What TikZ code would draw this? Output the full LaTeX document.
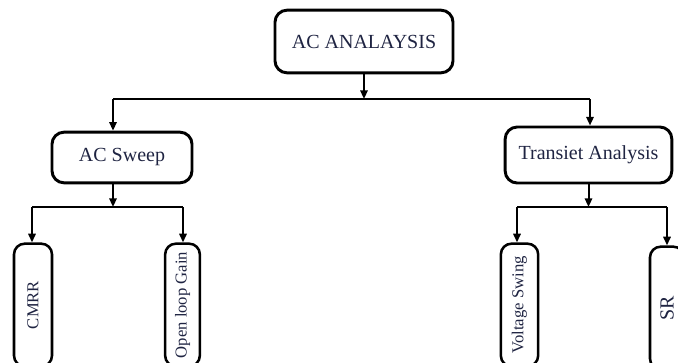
\documentclass[tikz,border=0pt]{standalone}
\usepackage{fontspec}
\setmainfont{Liberation Serif}
\usetikzlibrary{arrows.meta}
\definecolor{inkblue}{rgb}{0.12,0.14,0.26}
\tikzset{
  blk/.style={draw,line width=2.2pt,rounded corners=9pt,text=inkblue,
    font=\fontsize{15}{18}\selectfont},
  vblk/.style={blk,rotate=90,rounded corners=8pt,line width=1.9pt,
    font=\fontsize{12.5}{15}\selectfont},
  arr/.style={line width=1.5pt,-{Triangle[length=6.5pt,width=5.5pt]}},
  bus/.style={line width=1.5pt}
}

\begin{document}
\begin{tikzpicture}[x=0.75pt,y=-0.75pt]
  \useasboundingbox(0,0)rectangle(678,362);
  \clip(0,0)rectangle(678,362);
  % boxes
  \node[blk,minimum width=133.5pt,minimum height=47pt](ana)at(364,41.5){AC ANALAYSIS};
  \node[blk,minimum width=105pt,minimum height=38pt](swp)at(122,157.5){AC Sweep};
  \node[blk,minimum width=125pt,minimum height=42pt](trs)at(588.5,155){Transiet Analysis};
  \node[vblk,minimum width=92pt,minimum height=28.5pt](cmrr)at(33,305){CMRR};
  \node[vblk,minimum width=92pt,minimum height=26pt](olg)at(182.5,305){Open loop Gain};
  \node[vblk,minimum width=92pt,minimum height=28pt](vsw)at(519.5,305){Voltage Swing};
  \node[vblk,minimum width=92pt,minimum height=25.5pt,font=\fontsize{15}{18}\selectfont](sr)at(667,308){SR};
  % first level
  \coordinate(busL)at(113,99);\coordinate(busR)at(590,99);
  \draw[arr](ana.south)--(ana.south|-busL);
  \draw[bus](busL)--(busR);
  \draw[arr](busL)--(busL|-swp.north);
  \draw[arr](busR)--(busR|-trs.north);
  % second level
  \coordinate(lftL)at(32,207);\coordinate(lftR)at(183,207);
  \coordinate(rgtL)at(517,207);\coordinate(rgtR)at(667,207);
  \draw[arr](busL|-swp.south)--(busL|-lftL);
  \draw[bus](lftL)--(lftR);
  \draw[arr](lftL)--(lftL|-cmrr.east);
  \draw[arr](lftR)--(lftR|-olg.east);
  \draw[arr](trs.south)--(trs.south|-rgtL);
  \draw[bus](rgtL)--(rgtR);
  \draw[arr](rgtL)--(rgtL|-vsw.east);
  \draw[arr](rgtR)--(rgtR|-sr.east);
\end{tikzpicture}
\end{document}
